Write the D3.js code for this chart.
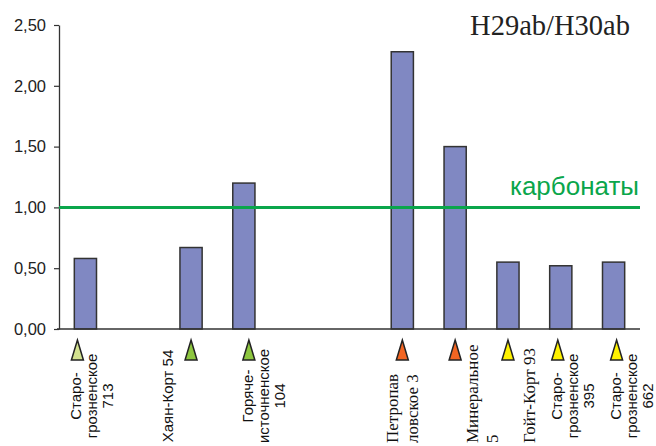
<!DOCTYPE html>
<html><head><meta charset="utf-8">
<script src="https://cdn.jsdelivr.net/npm/d3@7"></script>
<style>
html,body{margin:0;padding:0;background:#fff;}
svg{display:block;}
</style></head>
<body>
<svg id="chart" width="656" height="446"></svg>
<script>
// ---- data ----
const categories = ["Старо-|грозненское|713", "", "Хаян-Корт 54", "Горяче-|источненское|104", "", "", "Петропав|ловское 3", "Минеральное|5", "Гойт-Корт 93", "Старо-|грозненское|395", "Старо-|грозненское|662"];
const values = [0.58, null, 0.67, 1.20, null, null, 2.28, 1.50, 0.55, 0.52, 0.55];
const groups = ["g1", null, "g2", "g2", null, null, "g3", "g3", "g4", "g4", "g4"];
const yTicks = [0, 0.5, 1.0, 1.5, 2.0, 2.5];
const thresholdValue = 1.0;
const thresholdLabel = "карбонаты";
const title = "H29ab/H30ab";
const serifLabels = ["Петропав|ловское 3", "Минеральное|5", "Гойт-Корт 93"];

// ---- layout ----
const svg = d3.select("#chart");
const m = {left: 59, right: 640, top: 25, bottom: 329};
const groupColor = {g1: "#d3e28f", g2: "#8dc63f", g3: "#f26522", g4: "#fff200"};
const sans = "'Liberation Sans', Arial, sans-serif";
const serif = "'Liberation Serif', 'Times New Roman', serif";
// sideways offset of each category label block (px), keyed by slot index
const labelNudge = {0: -9, 2: -23, 3: 4, 6: -9, 7: 18, 8: 22, 9: -4, 10: 2};

const x = d3.scaleBand().domain(categories.map((d, i) => i)).range([m.left, m.right])
  .paddingInner(0.58).paddingOuter(0.29);
const y = d3.scaleLinear().domain([0, 2.5]).range([m.bottom, m.top]);

// y axis
const yAxis = d3.axisLeft(y).tickValues(yTicks).tickSize(5).tickSizeOuter(0)
  .tickFormat(d => d3.format(".2f")(d).replace(".", ","));
const ya = svg.append("g").attr("transform", `translate(${m.left},0)`).call(yAxis);
ya.select(".domain").attr("stroke", "#333").attr("stroke-width", 1.3);
ya.selectAll(".tick line").attr("stroke", "#333").attr("stroke-width", 1.2);
ya.selectAll(".tick text").attr("font-family", sans).attr("font-size", 16.5).attr("fill", "#222").attr("x", -13);

// bars
const data = categories.map((c, i) => ({i, c, v: values[i], g: groups[i]}));
svg.append("g").selectAll("rect").data(data.filter(d => d.v != null)).join("rect")
  .attr("x", d => x(d.i)).attr("width", x.bandwidth())
  .attr("y", d => y(d.v)).attr("height", d => y(0) - y(d.v))
  .attr("fill", "#8088c2").attr("stroke", "#333").attr("stroke-width", 1.5);

// x baseline
svg.append("line").attr("x1", m.left - 2).attr("x2", m.right).attr("y1", y(0)).attr("y2", y(0))
  .attr("stroke", "#333").attr("stroke-width", 1.5);

// threshold line
svg.append("line").attr("x1", m.left).attr("x2", m.right).attr("y1", y(thresholdValue)).attr("y2", y(thresholdValue))
  .attr("stroke", "#0aa64b").attr("stroke-width", 3);
svg.append("text").attr("x", m.right - 1).attr("y", y(thresholdValue) - 12).attr("text-anchor", "end")
  .attr("font-family", sans).attr("font-size", 26).attr("fill", "#0aa64b").text(thresholdLabel);

// title
svg.append("text").attr("x", 630).attr("y", 35).attr("text-anchor", "end")
  .attr("font-family", serif).attr("font-size", 28.5).attr("fill", "#222").text(title);

// markers + labels
const cats = data.filter(d => d.v != null);
const cx = d => x(d.i) + x.bandwidth() / 2;
const isSerif = d => serifLabels.includes(d.c);
const labelX = d => cx(d) + (labelNudge[d.i] || 0);
// marker sits above the first label line for multi-line sans labels, else over the bar
const markerX = d => (!isSerif(d) && d.c.includes("|")) ? labelX(d) + 1 : cx(d);

svg.append("g").selectAll("path").data(cats).join("path")
  .attr("d", d => { const c = markerX(d), t = y(0) + 11, b = y(0) + 31; return `M${c},${t}L${c + 6},${b}L${c - 6},${b}Z`; })
  .attr("fill", d => groupColor[d.g]).attr("stroke", "#222").attr("stroke-width", 1.5).attr("stroke-linejoin", "miter");

cats.forEach(d => {
  const serifL = isSerif(d);
  const lines = d.c.split("|");
  const lh = serifL ? 20 : 16;
  const fs = serifL ? 17 : 15;
  const yPos = serifL ? 443 : 396;
  const t = svg.append("text")
    .attr("transform", `translate(${labelX(d) + 5},${yPos}) rotate(-90)`)
    .attr("text-anchor", serifL ? "start" : "middle")
    .attr("font-family", serifL ? serif : sans).attr("font-size", fs).attr("fill", "#111");
  lines.forEach((ln, k) => t.append("tspan").attr("x", 0).attr("y", k * lh).text(ln));
});
</script>
</body></html>
